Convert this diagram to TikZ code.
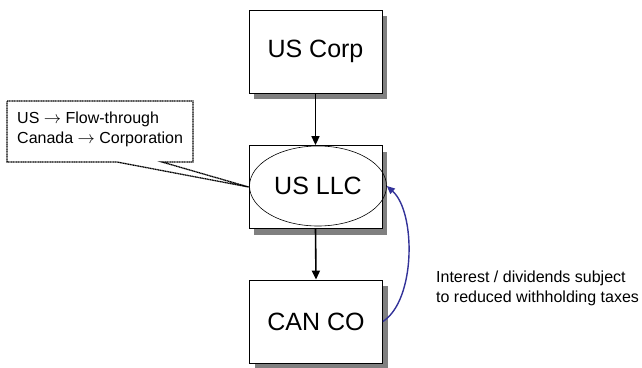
\documentclass[tikz,border=0pt]{standalone}
\usepackage{fontspec}
\setmainfont{Liberation Sans}
\usetikzlibrary{shapes.geometric,shadows,arrows.meta}
\definecolor{curveblue}{RGB}{51,51,153}
\newcommand{\bigarr}{$\rightarrow$}
\begin{document}
\begin{tikzpicture}[x=1pt,y=-1pt,
  entity/.style={draw=black, line width=0.8pt, fill=white,
    minimum width=133pt, minimum height=83pt, inner sep=0pt,
    font=\fontsize{25}{30}\selectfont,
    drop shadow={shadow xshift=5pt, shadow yshift=-6pt, fill=black!50, opacity=1}},
  oval/.style={ellipse, draw=black, line width=0.6pt, minimum width=137pt,
    minimum height=80pt, inner sep=0pt, font=\fontsize{25}{30}\selectfont},
  flow/.style={line width=1.6pt, -{Triangle[length=9pt,width=8pt]}},
  payback/.style={draw=curveblue, line width=1.4pt, -{Triangle[length=8pt,width=7pt]}},
  callout/.style={draw=black, fill=white, line width=1.3pt, dash pattern=on 1.2pt off 0.5pt},
  smalltext/.style={font=\fontsize{16}{20}\selectfont, align=left, inner sep=0pt, anchor=north west}
]
\useasboundingbox (0,0) rectangle (642,367);

\node[entity] (corp) at (315.5,51.5) {US Corp};
\node[entity] (llcbox) at (315.5,187) {};
\node[oval] (llc) at (318,186) {US LLC};
\node[entity] (can) at (316,321.5) {CAN CO};

\draw[flow] (corp.south) -- (llcbox.north);
\draw[flow] (llcbox.south) -- (can.north);

\draw[payback] (can.east) .. controls (416,300) and (416,212) .. (llc.east);

\node[smalltext] (note) at (436,271) {Interest / dividends subject\\to reduced withholding taxes};

\coordinate (cA) at (7,101);
\coordinate (cB) at (193,101);
\coordinate (cC) at (193,162);
\coordinate (cD) at (162,162);
\coordinate (cE) at (117,162);
\coordinate (cF) at (7,162);
\draw[callout] (cA) -- (cB) -- (cC) -- (cD) -- (llcbox.west) -- (cE) -- (cF) -- cycle;
\node[smalltext] (calltext) at (17,111.5) {US \bigarr{} Flow-through\\Canada \bigarr{} Corporation};
\end{tikzpicture}
\end{document}
